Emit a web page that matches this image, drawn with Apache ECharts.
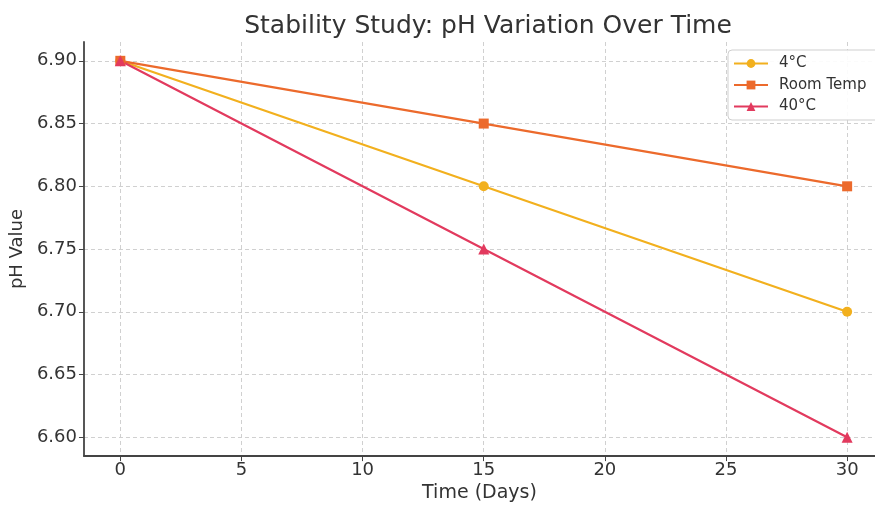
<!DOCTYPE html>
<html>
<head>
<meta charset="utf-8">
<script src="https://cdn.jsdelivr.net/npm/echarts@6/dist/echarts.min.js"></script>
<style>
html,body{margin:0;padding:0;background:#fff;}
#chart{width:875px;height:508px;}
</style>
</head>
<body>
<div id="chart"></div>
<script>
const days = [0, 15, 30];
const ph4C = [6.90, 6.80, 6.70];
const phRoom = [6.90, 6.85, 6.80];
const ph40C = [6.90, 6.75, 6.60];
const seriesNames = ['4°C', 'Room Temp', '40°C'];
const xTicks = [0, 5, 10, 15, 20, 25, 30];
const yTicks = [6.60, 6.65, 6.70, 6.75, 6.80, 6.85, 6.90];

const FONT = 'DejaVu Sans';
const chart = echarts.init(document.getElementById('chart'));

function pairs(xs, ys) { return xs.map((x, i) => [x, ys[i]]); }

const gridLine = { show: true, lineStyle: { color: '#d0d0d0', type: [4, 3], width: 1 } };

chart.setOption({
  animation: false,
  backgroundColor: '#fff',
  title: {
    text: 'Stability Study: pH Variation Over Time',
    left: 483, top: 9, textAlign: 'center',
    textStyle: { fontFamily: FONT, fontSize: 25, fontWeight: 'normal', color: '#333' }
  },
  legend: {
    orient: 'vertical',
    left: 728, top: 50,
    data: seriesNames,
    itemWidth: 34, itemHeight: 11, itemGap: 6.5,
    padding: [6, 14, 6, 5],
    borderColor: '#cfcfcf', borderWidth: 1, borderRadius: 4,
    backgroundColor: 'rgba(255,255,255,0.9)',
    textStyle: { fontFamily: FONT, fontSize: 15, color: '#333', padding: [0, 0, 0, 6] }
  },
  grid: { left: 83, top: 42, right: 0, bottom: 46, containLabel: false },
  xAxis: {
    type: 'value', min: -1.5, max: 31.15,
    name: 'Time (Days)', nameLocation: 'middle', nameGap: 27,
    nameTextStyle: { fontFamily: FONT, fontSize: 19, color: '#333' },
    axisLine: { show: true, onZero: false, lineStyle: { color: '#444', width: 1.8 } },
    axisTick: { show: true, inside: false, length: 5, customValues: xTicks, lineStyle: { color: '#444' } },
    axisLabel: { customValues: xTicks, fontFamily: FONT, fontSize: 18, color: '#333', margin: 5 },
    splitLine: Object.assign({ customValues: xTicks }, gridLine)
  },
  yAxis: {
    type: 'value', min: 6.585, max: 6.915,
    name: 'pH Value', nameLocation: 'middle', nameGap: 52, nameRotate: 90,
    nameTextStyle: { fontFamily: FONT, fontSize: 18, color: '#333' },
    axisLine: { show: true, onZero: false, lineStyle: { color: '#444', width: 1.8 } },
    axisTick: { show: true, inside: false, length: 5, customValues: yTicks, lineStyle: { color: '#444' } },
    axisLabel: {
      customValues: yTicks, fontFamily: FONT, fontSize: 18, color: '#333', margin: 7,
      formatter: v => v.toFixed(2)
    },
    splitLine: Object.assign({ customValues: yTicks }, gridLine)
  },
  series: [
    {
      name: seriesNames[0], type: 'line', data: pairs(days, ph4C),
      symbol: 'circle', symbolSize: 10,
      lineStyle: { color: '#f2b01e', width: 2.2 },
      itemStyle: { color: '#f2b01e' }
    },
    {
      name: seriesNames[1], type: 'line', data: pairs(days, phRoom),
      symbol: 'rect', symbolSize: 10,
      lineStyle: { color: '#ec6a2c', width: 2.2 },
      itemStyle: { color: '#ec6a2c' }
    },
    {
      name: seriesNames[2], type: 'line', data: pairs(days, ph40C),
      symbol: 'triangle', symbolSize: 11,
      lineStyle: { color: '#e23a5e', width: 2.2 },
      itemStyle: { color: '#e23a5e' }
    }
  ]
});
</script>
</body>
</html>
